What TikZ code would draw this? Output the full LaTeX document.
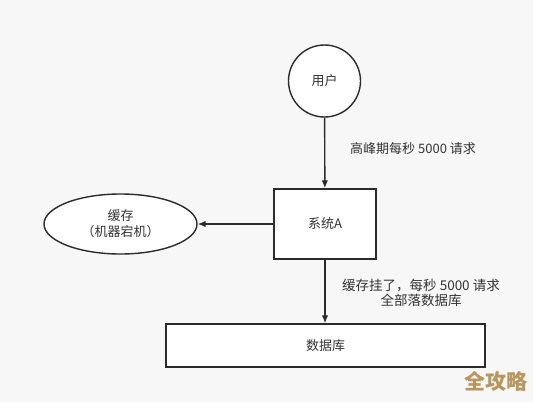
\documentclass[tikz,border=0pt]{standalone}
\usepackage{fontspec}
\setmainfont{Noto Sans CJK SC}
\usepackage{tikz}
\usetikzlibrary{arrows.meta, shapes.geometric}

\definecolor{bgGray}{HTML}{F7F7F7}
\definecolor{lineDark}{HTML}{2B2B2B}
\definecolor{textDark}{HTML}{333333}
\definecolor{markGold}{HTML}{B8965C}

\begin{document}
\begin{tikzpicture}[x=1pt, y=-1pt, font=\fontsize{13}{16}\selectfont, text=textDark]

    \tikzset{
        shapeLine/.style={draw=lineDark, line width=1.4pt, fill=white},
        flowArrow/.style={draw=lineDark, line width=1.4pt, -{Latex[length=8pt,width=6.5pt]}}
    }

    \fill[bgGray] (0,0) rectangle (533,402);
    \useasboundingbox (0,0) rectangle (533,402);

    \node[shapeLine, circle, minimum size=72pt, inner sep=0pt] (user) at (324.5,81) {用户};
    \node[shapeLine, rectangle, minimum width=102pt, minimum height=70pt, inner sep=0pt] (sysA) at (325,224) {系统A};
    \node[shapeLine, ellipse, minimum width=153pt, minimum height=60pt, inner sep=0pt, align=center] (cache) at (120.5,224) {缓存\\（机器宕机）};
    \node[shapeLine, rectangle, minimum width=319pt, minimum height=43pt, inner sep=0pt] (db) at (325.5,345.5) {数据库};

    \draw[flowArrow] (user) -- (sysA); % peak requests
    \draw[flowArrow] (sysA) -- (cache); % cache down
    \draw[flowArrow] (sysA.south) -- (sysA.south |- db.north); % all to database

    \node[anchor=west, inner sep=0pt] (peakLabel) at (350,149) {高峰期每秒 5000 请求};
    \node[align=center, font=\fontsize{13.5}{15}\selectfont] (fallLabel) at (421,293) {缓存挂了，每秒 5000 请求\\全部落数据库};

    \node[text=markGold, font=\fontsize{21}{22}\bfseries\selectfont] (mark) at (496,381) {全攻略};

\end{tikzpicture}
\end{document}
